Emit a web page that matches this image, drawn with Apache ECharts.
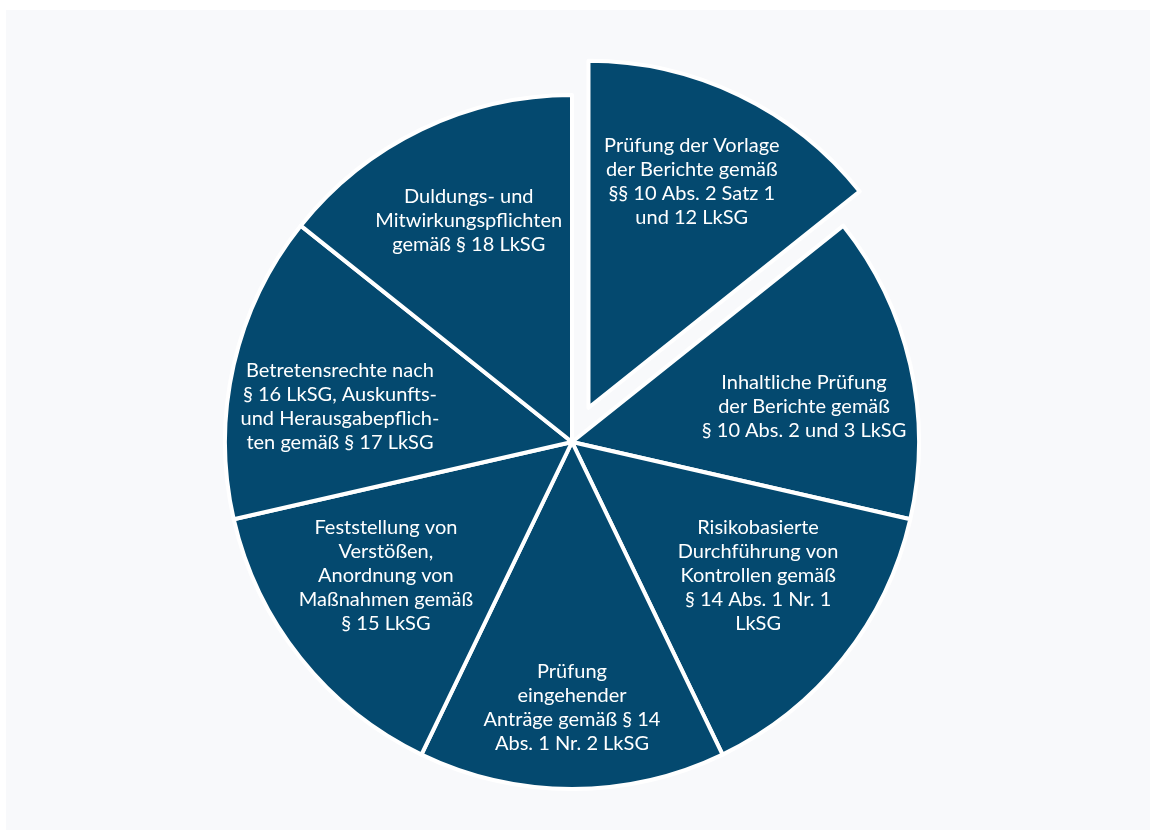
<!DOCTYPE html>
<html>
<head>
<meta charset="utf-8">
<script src="https://cdn.jsdelivr.net/npm/echarts@6/dist/echarts.min.js"></script>
<style>
html,body{margin:0;padding:0;background:#ffffff;}
#chart{width:1150px;height:830px;}
</style>
</head>
<body>
<div id="chart"></div>
<script>
// Categories (slice labels, with the original line breaks)
const categories = [
  "Prüfung der Vorlage\nder Berichte gemäß\n§§ 10 Abs. 2 Satz 1\nund 12 LkSG",
  "Inhaltliche Prüfung\nder Berichte gemäß\n§ 10 Abs. 2 und 3 LkSG",
  "Risikobasierte\nDurchführung von\nKontrollen gemäß\n§ 14 Abs. 1 Nr. 1\nLkSG",
  "Prüfung\neingehender\nAnträge gemäß § 14\nAbs. 1 Nr. 2 LkSG",
  "Feststellung von\nVerstößen,\nAnordnung von\nMaßnahmen gemäß\n§ 15 LkSG",
  "Betretensrechte nach\n§ 16 LkSG, Auskunfts-\nund Herausgabepflich-\nten gemäß § 17 LkSG",
  "Duldungs- und\nMitwirkungspflichten\ngemäß § 18 LkSG"
];
// Equal shares: seven equally sized slices
const values = [1, 1, 1, 1, 1, 1, 1];
// Highlighted (exploded) slice
const selectedFlags = [true, false, false, false, false, false, false];

// Label vertical fine-tuning (px, positive = down)
const labelShift = [-12, 18, -15, 28, -15, 18, -7];

const SLICE = '#04496f';
const FONT = 'Lato';

const pieData = categories.map((c, i) => ({
  name: c, value: values[i], selected: selectedFlags[i]
}));

const chart = echarts.init(document.getElementById('chart'), null, {renderer: 'canvas'});
chart.setOption({
  backgroundColor: '#ffffff',
  animation: false,
  graphic: [{
    type: 'rect', z: -10, silent: true,
    shape: {x: 6, y: 10, width: 1144, height: 820},
    style: {fill: '#f8f9fb'}
  }],
  series: [
    {
      type: 'pie',
      center: [572, 442],
      radius: [0, 347],
      startAngle: 90,
      clockwise: true,
      selectedMode: 'single',
      selectedOffset: 38,
      silent: true,
      itemStyle: {color: SLICE, borderColor: '#ffffff', borderWidth: 4},
      label: {show: false},
      labelLine: {show: false},
      emphasis: {disabled: true},
      data: pieData
    },
    {
      type: 'pie',
      center: [572, 442],
      radius: [0, 470],
      startAngle: 90,
      clockwise: true,
      selectedMode: 'single',
      selectedOffset: 38,
      silent: true,
      z: 5,
      itemStyle: {color: 'rgba(0,0,0,0)', borderWidth: 0},
      label: {
        show: true, position: 'inside',
        color: '#ffffff', fontFamily: FONT, fontSize: 20, lineHeight: 24,
        fontWeight: 'normal', align: 'center'
      },
      labelLayout: function (params) {
        return {dy: labelShift[params.dataIndex]};
      },
      labelLine: {show: false},
      emphasis: {disabled: true},
      data: pieData
    }
  ]
});
</script>
</body>
</html>
